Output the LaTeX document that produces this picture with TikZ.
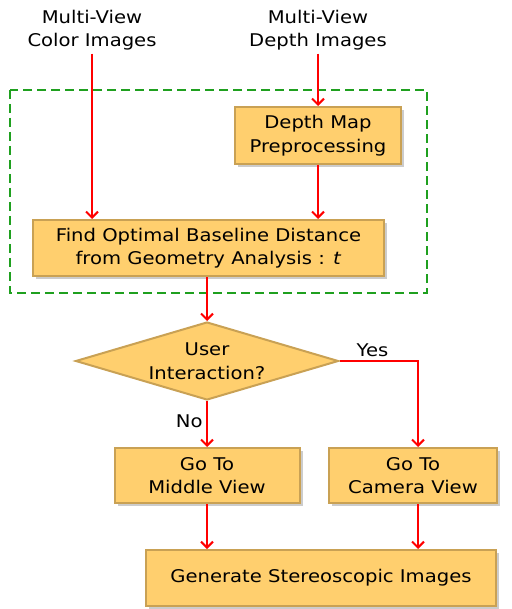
\documentclass[tikz,border=0pt]{standalone}
\usepackage{fontspec}
\setmainfont{DejaVu Sans}[FakeStretch=1.12]
\usetikzlibrary{arrows.meta, shapes.geometric, shadows}
\definecolor{boxfill}{HTML}{FFCF6E}
\definecolor{boxline}{HTML}{C9A154}
\definecolor{flow}{HTML}{FF0000}
\definecolor{frame}{HTML}{1FA01F}

\begin{document}
\begin{tikzpicture}[x=1pt, y=-1pt,
		font=\fontsize{17.5}{23.5}\selectfont,
		stepbox/.style={draw=boxline, fill=boxfill, line width=2pt, align=center,
			inner sep=0pt, drop shadow={shadow xshift=3pt, shadow yshift=-3pt, opacity=0.4}},
		decision/.style={diamond, draw=boxline, fill=boxfill, line width=2pt, align=center,
			aspect=3.4, inner sep=0pt, minimum width=263pt, minimum height=78pt},
		flowline/.style={flow, line width=2.2pt, -{Straight Barb[length=6pt, width=12pt, line width=2pt]}}]
			\useasboundingbox (0,0) rectangle (511,609);

			% Inputs
			\node[align=center] (color) at (92,30) {Multi-View\\Color Images};
			\node[align=center] (depth) at (318,30) {Multi-View\\Depth Images};

			% Geometry stage
			\draw[frame, line width=2.2pt, dash pattern=on 9pt off 5pt] (10,90) rectangle (427,293);
			\node[stepbox, minimum width=166pt, minimum height=57pt] (prep) at (318,135.5) {Depth Map\\Preprocessing};
			\node[stepbox, minimum width=351pt, minimum height=56pt] (base) at (208.5,248) {Find Optimal Baseline Distance\\from Geometry Analysis : \textit{t}};

			% Decision and views
			\node[decision] (user) at (207,361) {User\\Interaction?};
			\node[stepbox, minimum width=185pt, minimum height=55pt] (mid) at (207,475.5) {Go To\\Middle View};
			\node[stepbox, minimum width=168pt, minimum height=55pt] (cam) at (413,475.5) {Go To\\Camera View};
			\node[stepbox, minimum width=350pt, minimum height=56pt] (gen) at (321,578) {Generate Stereoscopic Images};

			\coordinate (yes) at (418,361);

			% Connectors
			\draw[flowline] (color.south) -- (color.south |- base.north) ;
			\draw[flowline] (depth.south) -- (prep.north);
			\draw[flowline] (prep.south) -- (prep.south |- base.north);
			\draw[flowline] (base.south -| user.north) -- (user.north);
			\draw[flowline] (user.south) -- node[left, pos=0.45, black] {No} (user.south |- mid.north);
			\draw[flowline] (user.east) -- node[above, pos=0.42, black] {Yes} (yes) -- (yes |- cam.north);
			\draw[flowline] (mid.south) -- (mid.south |- gen.north);
			\draw[flowline] (yes |- cam.south) -- (yes |- gen.north);
		\end{tikzpicture}
\end{document}
